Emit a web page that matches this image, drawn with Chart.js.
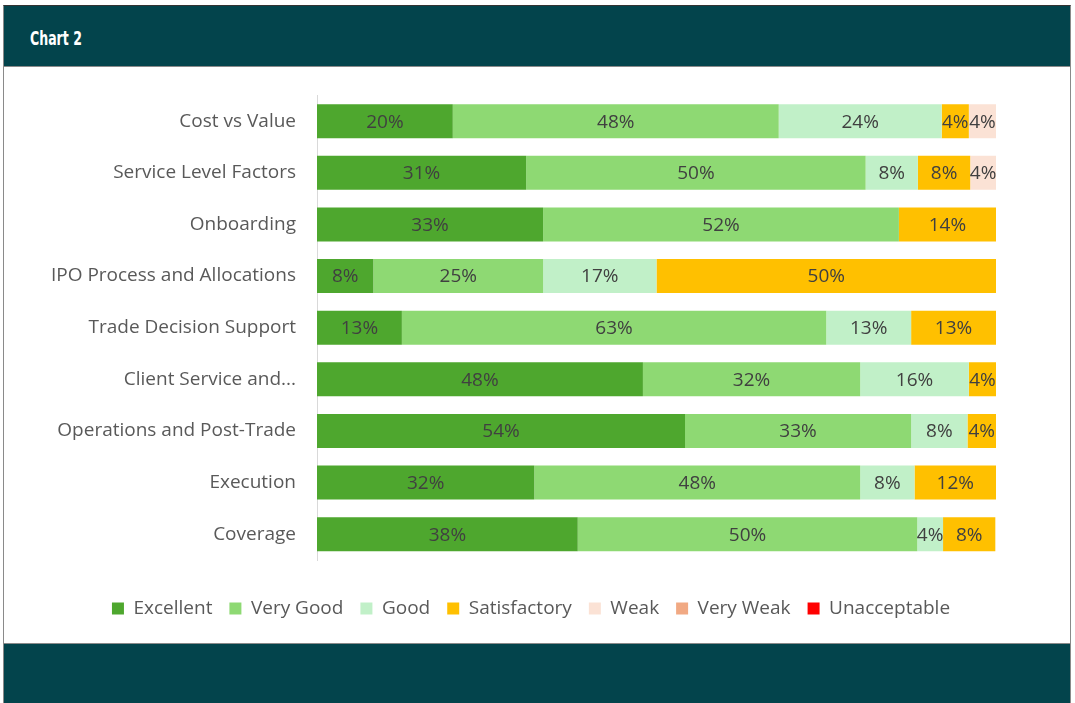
<!DOCTYPE html>
<html>
<head>
<meta charset="utf-8">
<script src="https://cdn.jsdelivr.net/npm/chart.js@4"></script>
<style>
    body { margin: 0; background: #ffffff; width: 1075px; height: 703px; position: relative; overflow: hidden; }
    #frame { position: absolute; left: 3px; top: 5px; width: 1066px; height: 698px; border-left: 1px solid #8a8a8a; border-right: 1px solid #8a8a8a; border-top: 1px solid #333; }
    #header { position: absolute; left: 4px; top: 6px; width: 1066px; height: 60px; background: #03444c; border-bottom: 1px solid #8a8a8a; }
    #header span { position: absolute; left: 26px; top: 21px; color: #ffffff; font: bold 19px "DejaVu Sans", sans-serif; transform: scaleX(0.66); transform-origin: left center; }
    #footer { position: absolute; left: 4px; top: 643px; width: 1066px; height: 60px; background: #03444c; border-top: 1px solid #8a8a8a; }
    #wrap { position: absolute; left: 4px; top: 63px; width: 1066px; height: 580px; }
</style>
</head>
<body>
<div id="frame"></div>
<div id="header"><span>Chart 2</span></div>
<div id="wrap"><canvas id="chart"></canvas></div>
<div id="footer"></div>
<script>
document.addEventListener('DOMContentLoaded', () => {
    const categories = [
        'Cost vs Value',
        'Service Level Factors',
        'Onboarding',
        'IPO Process and Allocations',
        'Trade Decision Support',
        'Client Service and...',
        'Operations and Post-Trade',
        'Execution',
        'Coverage'
    ];

    // shares in percent, per category (same order as above)
    const excellent    = [20, 30.8, 33.3, 8.3, 12.5, 48, 54.2, 32, 38.4];
    const veryGood     = [48, 50, 52.4, 25, 62.5, 32, 33.3, 48, 50];
    const good         = [24, 7.7, 0, 16.7, 12.5, 16, 8.3, 8, 3.8];
    const satisfactory = [4, 7.7, 14.3, 50, 12.5, 4, 4.2, 12, 7.7];
    const weak         = [4, 3.8, 0, 0, 0, 0, 0, 0, 0];
    const veryWeak     = [0, 0, 0, 0, 0, 0, 0, 0, 0];
    const unacceptable = [0, 0, 0, 0, 0, 0, 0, 0, 0];

    const seriesNames = ['Excellent', 'Very Good', 'Good', 'Satisfactory', 'Weak', 'Very Weak', 'Unacceptable'];
    const seriesData = [excellent, veryGood, good, satisfactory, weak, veryWeak, unacceptable];
    const seriesColors = ['#4ea72e', '#8ed973', '#c1f0c8', '#ffc000', '#fbe2d5', '#f1a983', '#ff0000'];

    const FONT = '"Open Sans", Roboto, sans-serif';

    // draws the percent value in the middle of each segment
    const barLabels = {
        id: 'barLabels',
        afterDatasetsDraw(chart) {
            const ctx = chart.ctx;
            ctx.save();
            ctx.font = '19px ' + FONT;
            ctx.fillStyle = '#404040';
            ctx.textAlign = 'center';
            ctx.textBaseline = 'middle';
            chart.data.datasets.forEach((ds, i) => {
                const meta = chart.getDatasetMeta(i);
                meta.data.forEach((bar, j) => {
                    const v = ds.data[j];
                    if (!v) return;
                    ctx.fillText(Math.round(v) + '%', (bar.x + bar.base) / 2, bar.y + 1);
                });
            });
            ctx.restore();
        }
    };

    const ctx = document.getElementById('chart').getContext('2d');
    new Chart(ctx, {
        type: 'bar',
        data: {
            labels: categories,
            datasets: seriesNames.map((name, i) => ({
                label: name,
                data: seriesData[i],
                backgroundColor: seriesColors[i],
                borderWidth: 0,
                barPercentage: 0.66,
                categoryPercentage: 1
            }))
        },
        options: {
            indexAxis: 'y',
            responsive: true,
            maintainAspectRatio: false,
            animation: false,
            layout: { padding: { top: 20, right: 12, bottom: 15, left: 0 } },
            scales: {
                x: {
                    stacked: true,
                    min: 0,
                    max: 100,
                    grid: { display: false, drawTicks: false },
                    border: { display: false },
                    ticks: { display: false },
                    afterFit: (scale) => { scale.height = 22; }
                },
                y: {
                    stacked: true,
                    grid: { display: false, drawTicks: false },
                    border: { display: true, color: '#d9d9d9', width: 1 },
                    ticks: { color: '#595959', font: { family: FONT, size: 19 }, padding: 21 },
                    afterFit: (scale) => { scale.width = 313; }
                },
                // empty spacer on the right so the legend stays centred on the whole panel
                yRight: {
                    position: 'right',
                    grid: { display: false, drawTicks: false },
                    border: { display: false },
                    ticks: { display: false },
                    afterFit: (scale) => { scale.width = 62; }
                }
            },
            plugins: {
                legend: {
                    position: 'bottom',
                    labels: {
                        color: '#595959',
                        font: { family: FONT, size: 19 },
                        boxWidth: 12,
                        boxHeight: 12,
                        padding: 17
                    }
                },
                tooltip: { enabled: false }
            }
        },
        plugins: [barLabels]
    });
});
</script>
</body>
</html>
